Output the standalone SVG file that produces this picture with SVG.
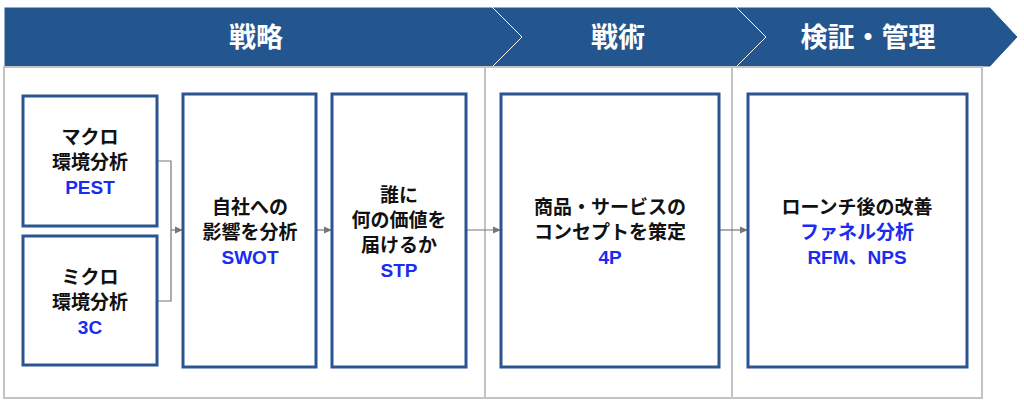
<svg xmlns="http://www.w3.org/2000/svg" width="1024" height="411" viewBox="0 0 1024 411">
<style>
.hd{fill:#23558f;stroke:#fff;stroke-width:1}
.ht{fill:#fff;font:bold 27px "Noto Sans CJK JP",sans-serif;text-anchor:middle}
.sec{fill:#fff;stroke:#c3c3c3;stroke-width:2}
.nd{fill:#fff;stroke:#2a5591;stroke-width:3}
.t{font:bold 19px "Liberation Sans","Noto Sans CJK JP",sans-serif;text-anchor:middle;fill:#111}
.b{fill:#1a2cf0}
.cn{fill:none;stroke:#777;stroke-width:1.2}
</style>
<defs><marker id="ar" markerWidth="8" markerHeight="8" refX="7" refY="4" orient="auto" markerUnits="userSpaceOnUse"><path d="M0,0.5L8,4L0,7.5z" fill="#777"/></marker></defs>
<rect width="1024" height="411" fill="#fff"/>
<g id="headers">
<path class="hd" d="M4,7H492L522,37L492,67H4z"/>
<path class="hd" d="M492,7H736L766,37L736,67H492L522,37z"/>
<path class="hd" d="M736,7H990L1018,37L990,67H736L766,37z"/>
<text class="ht" x="256" y="47">戦略</text>
<text class="ht" x="618" y="47">戦術</text>
<text class="ht" x="868" y="47">検証・管理</text>
</g>
<g id="sections">
<rect class="sec" x="4" y="67" width="481" height="331"/>
<rect class="sec" x="485" y="67" width="247" height="331"/>
<rect class="sec" x="732" y="67" width="250" height="331"/>
</g>
<g id="connectors">
<path class="cn" d="M157,161H171V301H157"/>
<path class="cn" d="M171,230H182" marker-end="url(#ar)"/>
<path class="cn" d="M316,230H331" marker-end="url(#ar)"/>
<path class="cn" d="M466,230H500" marker-end="url(#ar)"/>
<path class="cn" d="M719,230H747" marker-end="url(#ar)"/>
</g>
<g id="pest"><rect class="nd" x="23" y="96" width="134" height="130"/>
<text class="t" x="90" y="144">マクロ</text><text class="t" x="90" y="169">環境分析</text><text class="t b" x="90" y="194">PEST</text></g>
<g id="c3"><rect class="nd" x="23" y="236" width="134" height="129"/>
<text class="t" x="90" y="284">ミクロ</text><text class="t" x="90" y="309">環境分析</text><text class="t b" x="90" y="334">3C</text></g>
<g id="swot"><rect class="nd" x="183" y="94" width="133" height="273"/>
<text class="t" x="250" y="214">自社への</text><text class="t" x="250" y="239">影響を分析</text><text class="t b" x="250" y="264">SWOT</text></g>
<g id="stp"><rect class="nd" x="332" y="94" width="134" height="273"/>
<text class="t" x="399" y="202">誰に</text><text class="t" x="399" y="227">何の価値を</text><text class="t" x="399" y="252">届けるか</text><text class="t b" x="399" y="277">STP</text></g>
<g id="p4"><rect class="nd" x="501" y="94" width="218" height="273"/>
<text class="t" x="610" y="214">商品・サービスの</text><text class="t" x="610" y="239">コンセプトを策定</text><text class="t b" x="610" y="264">4P</text></g>
<g id="improve"><rect class="nd" x="748" y="94" width="219" height="273"/>
<text class="t" x="857" y="214">ローンチ後の改善</text><text class="t b" x="857" y="239">ファネル分析</text><text class="t b" x="857" y="264">RFM、NPS</text></g>
</svg>
